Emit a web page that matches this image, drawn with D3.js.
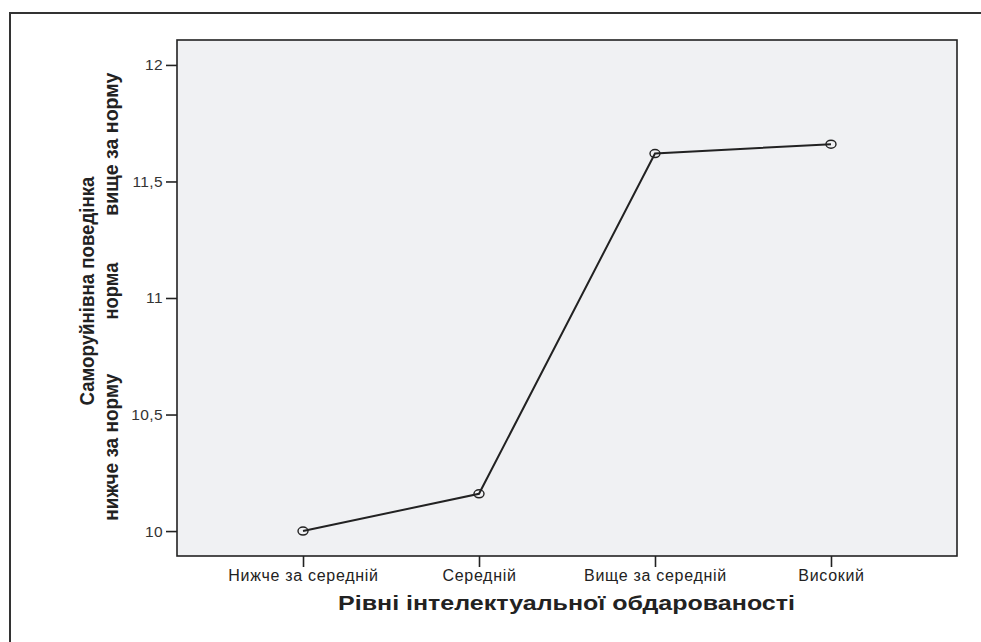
<!DOCTYPE html>
<html>
<head>
<meta charset="utf-8">
<script src="https://cdn.jsdelivr.net/npm/d3@7"></script>
<style>
  body { margin: 0; background: #fff; }
  text { font-family: "Liberation Sans", Arial, sans-serif; }
</style>
</head>
<body>
<svg id="chart"></svg>
<script>
// données
const categories = ["Нижче за середній", "Середній", "Вище за середній", "Високий"];
const values = [10.0, 10.16, 11.62, 11.66];
const yTicks = [10, 10.5, 11, 11.5, 12];
const yTitle = "Саморуйнівна поведінка";
const yZones = ["нижче за норму", "норма", "вище за норму"];
const yZoneValues = [10.36, 11.03, 11.66]; // centre de chaque zone sur l'axe
const xTitle = "Рівні інтелектуальної обдарованості";

const width = 981, height = 642;
const plot = { left: 177, top: 40, right: 957, bottom: 556 };

const svg = d3.select("#chart")
    .attr("width", width)
    .attr("height", height);

// cadre extérieur
svg.append("path")
    .attr("d", `M10,${height + 5}V13H${width + 5}`)
    .attr("fill", "none")
    .attr("stroke", "#333")
    .attr("stroke-width", 2);

const x = d3.scalePoint()
    .domain(categories)
    .range([plot.left, plot.right])
    .padding(0.716);

const y = d3.scaleLinear()
    .domain([9.893, 12.107])
    .range([plot.bottom, plot.top]);

// fond de la zone de tracé
svg.append("rect")
    .attr("x", plot.left)
    .attr("y", plot.top)
    .attr("width", plot.right - plot.left)
    .attr("height", plot.bottom - plot.top)
    .attr("fill", "#f0f1f3")
    .attr("stroke", "#222")
    .attr("stroke-width", 1.6);

// axe Y
const yAxis = svg.append("g")
    .attr("transform", `translate(${plot.left},0)`)
    .call(d3.axisLeft(y)
        .tickValues(yTicks)
        .tickSize(11)
        .tickPadding(3)
        .tickFormat(d => String(d).replace(".", ",")));
yAxis.select(".domain").remove();
yAxis.selectAll("line").attr("stroke", "#222").attr("stroke-width", 1.6);
yAxis.selectAll("text")
    .attr("fill", "#333")
    .style("font-size", "15.5px")
    .style("letter-spacing", "0.4px")
    .style("font-family", "'Liberation Sans', Arial, sans-serif");

// axe X
const xAxis = svg.append("g")
    .attr("transform", `translate(0,${plot.bottom})`)
    .call(d3.axisBottom(x).tickSize(11).tickPadding(3));
xAxis.select(".domain").remove();
xAxis.selectAll("line").attr("stroke", "#222").attr("stroke-width", 1.6);
xAxis.selectAll("text")
    .attr("fill", "#222")
    .style("font-size", "16px")
    .style("letter-spacing", "0.7px")
    .style("font-family", "'Liberation Sans', Arial, sans-serif");

// titre X
svg.append("text")
    .attr("x", (338 + 795) / 2)
    .attr("y", 610)
    .attr("text-anchor", "middle")
    .attr("textLength", 457)
    .attr("lengthAdjust", "spacingAndGlyphs")
    .attr("font-weight", "bold")
    .attr("font-size", 21)
    .attr("fill", "#222")
    .text(xTitle);

// titre Y (deux colonnes)
svg.append("text")
    .attr("transform", `translate(94,${y(11.03)}) rotate(-90)`)
    .attr("text-anchor", "middle")
    .attr("textLength", 229)
    .attr("lengthAdjust", "spacingAndGlyphs")
    .attr("font-weight", "bold")
    .attr("font-size", 21)
    .attr("fill", "#222")
    .text(yTitle);

const zoneLen = [147, 57, 143];
svg.append("g").selectAll("text")
    .data(yZones)
    .join("text")
    .attr("transform", (d, i) => `translate(118,${y(yZoneValues[i])}) rotate(-90)`)
    .attr("text-anchor", "middle")
    .attr("textLength", (d, i) => zoneLen[i])
    .attr("lengthAdjust", "spacingAndGlyphs")
    .attr("font-weight", "bold")
    .attr("font-size", 21)
    .attr("fill", "#222")
    .text(d => d);

// ligne
const line = d3.line()
    .x((d, i) => x(categories[i]))
    .y(d => y(d));

svg.append("path")
    .datum(values)
    .attr("d", line)
    .attr("fill", "none")
    .attr("stroke", "#222")
    .attr("stroke-width", 2);

// marqueurs
svg.append("g").selectAll("ellipse")
    .data(values)
    .join("ellipse")
    .attr("cx", (d, i) => x(categories[i]))
    .attr("cy", d => y(d))
    .attr("rx", 5)
    .attr("ry", 4)
    .attr("fill", "none")
    .attr("stroke", "#222")
    .attr("stroke-width", 1.4);
</script>
</body>
</html>
